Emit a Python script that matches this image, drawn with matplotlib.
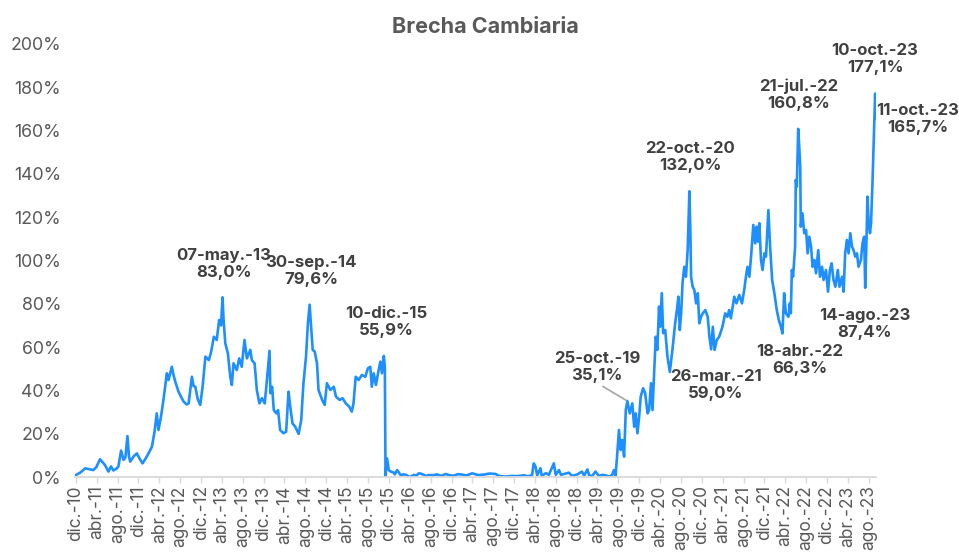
import matplotlib
matplotlib.use("Agg")
import matplotlib.pyplot as plt
import pandas as pd

# ---------------- data ----------------
dates = [
    "2010-12-01","2010-12-26","2011-01-25","2011-02-19","2011-03-13","2011-03-30","2011-04-21","2011-05-04",
    "2011-05-20","2011-06-09","2011-06-24","2011-07-08","2011-07-25","2011-08-06","2011-08-22","2011-09-05",
    "2011-09-16","2011-09-28","2011-10-07","2011-10-14","2011-11-03","2011-11-22","2011-12-08","2011-12-25",
    "2012-01-12","2012-01-29","2012-02-18","2012-03-04","2012-03-17","2012-03-27","2012-04-11","2012-04-25",
    "2012-05-15","2012-05-25","2012-06-13","2012-06-23","2012-07-06","2012-07-22","2012-08-06","2012-08-21",
    "2012-09-08","2012-09-19","2012-10-08","2012-10-18","2012-10-28","2012-11-11","2012-11-26","2012-12-10",
    "2012-12-26","2013-01-15","2013-01-29","2013-02-13","2013-03-02","2013-03-16","2013-03-27","2013-04-05",
    "2013-04-11","2013-04-21","2013-05-06","2013-05-20","2013-05-29","2013-06-08","2013-06-27","2013-07-11",
    "2013-07-26","2013-08-11","2013-08-25","2013-09-14","2013-09-23","2013-10-09","2013-10-22","2013-11-06",
    "2013-11-21","2013-12-07","2013-12-20","2014-01-04","2014-01-09","2014-01-19","2014-01-29","2014-02-12",
    "2014-02-23","2014-03-07","2014-03-26","2014-04-11","2014-04-25","2014-05-05","2014-05-18","2014-06-03",
    "2014-06-23","2014-07-08","2014-07-21","2014-08-05","2014-08-16","2014-08-26","2014-09-05","2014-09-13",
    "2014-09-25","2014-10-08","2014-10-17","2014-11-07","2014-11-22","2014-12-05","2014-12-25","2015-01-14",
    "2015-01-27","2015-02-17","2015-03-06","2015-03-25","2015-04-14","2015-04-29","2015-05-09","2015-05-22",
    "2015-06-08","2015-06-27","2015-07-17","2015-08-01","2015-08-15","2015-08-24","2015-09-04","2015-09-17",
    "2015-10-03","2015-10-13","2015-10-22","2015-11-02","2015-11-08","2015-11-12","2015-11-21","2015-12-01",
    "2015-12-13","2015-12-31","2016-01-05","2016-01-19","2016-02-08","2016-02-27","2016-03-10","2016-03-27",
    "2016-04-10","2016-04-25","2016-05-08","2016-05-24","2016-06-07","2016-06-22","2016-07-05","2016-07-21",
    "2016-08-15","2016-09-07","2016-10-01","2016-10-27","2016-11-20","2016-12-15","2017-01-05","2017-01-26",
    "2017-02-25","2017-04-01","2017-05-05","2017-06-08","2017-07-10","2017-08-15","2017-09-04","2017-10-10",
    "2017-11-19","2017-12-20","2018-01-28","2018-02-20","2018-03-16","2018-03-26","2018-04-05","2018-04-15",
    "2018-05-04","2018-05-12","2018-06-05","2018-06-22","2018-07-21","2018-08-01","2018-08-20","2018-09-01",
    "2018-10-17","2018-11-05","2018-12-05","2019-01-01","2019-01-14","2019-02-02","2019-02-12","2019-03-01",
    "2019-03-21","2019-04-10","2019-05-01","2019-05-26","2019-06-10","2019-06-26","2019-07-06","2019-07-16",
    "2019-07-25","2019-08-05","2019-08-15","2019-08-24","2019-09-04",
    "2019-09-14","2019-09-23","2019-10-07","2019-10-22","2019-11-02","2019-11-11","2019-11-21","2019-12-01",
    "2019-12-10","2019-12-24","2020-01-05","2020-01-19","2020-01-28","2020-02-08","2020-02-17","2020-02-27",
    "2020-03-07","2020-03-16","2020-03-26","2020-04-01","2020-04-11","2020-04-19","2020-05-01","2020-05-14",
    "2020-05-28","2020-06-12","2020-06-28","2020-07-08","2020-07-17","2020-07-25","2020-08-02","2020-08-10",
    "2020-08-20","2020-08-30","2020-09-09","2020-09-15","2020-09-19","2020-09-25","2020-09-29","2020-10-08",
    "2020-10-18","2020-10-28","2020-11-07","2020-11-16","2020-11-26","2020-12-06","2020-12-21","2021-01-04",
    "2021-01-14","2021-01-24","2021-02-03","2021-02-13","2021-02-26","2021-03-12","2021-03-31","2021-04-16",
    "2021-04-29","2021-05-09","2021-05-19","2021-06-08","2021-06-21","2021-07-07","2021-07-23","2021-08-05",
    "2021-08-15","2021-08-24","2021-09-04","2021-09-14","2021-09-27","2021-10-08","2021-10-16","2021-10-24",
    "2021-11-01","2021-11-11","2021-11-20","2021-12-01","2021-12-10","2021-12-24","2022-01-03","2022-01-15",
    "2022-01-28","2022-02-11","2022-02-23","2022-03-07","2022-03-16","2022-03-26","2022-04-05","2022-04-20",
    "2022-04-28","2022-05-04","2022-05-10","2022-05-17","2022-05-29","2022-06-02","2022-06-08","2022-06-16",
    "2022-06-22","2022-06-28","2022-07-01","2022-07-11","2022-07-21","2022-08-01","2022-08-10","2022-08-20",
    "2022-08-30","2022-09-08","2022-09-18","2022-09-28","2022-10-11","2022-10-21","2022-11-02","2022-11-11",
    "2022-11-25","2022-12-07","2022-12-18","2022-12-28","2023-01-08","2023-01-19","2023-02-02","2023-02-12",
    "2023-02-27","2023-03-08","2023-03-17","2023-03-27","2023-04-06","2023-04-16","2023-04-26","2023-05-05",
    "2023-05-15","2023-05-25","2023-06-03","2023-06-17","2023-06-26","2023-07-06","2023-07-12","2023-07-20",
    "2023-07-25","2023-08-01","2023-08-09","2023-08-15","2023-08-24","2023-08-30","2023-09-08","2023-09-12",
]
brecha = [
    0.9, 2.0, 4.0, 3.6, 3.2, 4.5, 8.2, 7.0,
    5.5, 2.5, 4.9, 3.0, 3.8, 4.8, 12.2, 7.9,
    9.0, 18.9, 9.5, 7.1, 9.5, 10.9, 8.5, 6.3,
    8.5, 10.9, 14.0, 20.9, 29.4, 21.7, 28.0, 35.6,
    47.9, 44.8, 50.9, 47.0, 43.3, 39.4, 37.0, 34.8,
    33.5, 34.0, 46.3, 42.0, 41.7, 36.0, 33.3, 42.0,
    55.6, 54.0, 58.0, 64.8, 63.3, 72.5, 70.0, 83.0,
    72.5, 61.8, 57.1, 46.3, 42.5, 52.5, 49.4, 54.8,
    50.9, 63.3, 54.8, 58.7, 54.0, 52.5, 40.2, 34.0,
    36.4, 34.0, 44.8, 58.3, 38.7, 41.7, 30.9, 29.4,
    30.9, 21.7, 20.2, 20.9, 39.4, 32.5, 24.8, 23.2,
    19.9, 26.3, 43.3, 55.6, 71.0, 79.6, 67.9, 58.7,
    57.9, 52.5, 40.2, 35.6, 33.3, 43.3, 40.2, 41.7,
    37.1, 35.6, 36.4, 34.0, 32.5, 30.2, 34.0, 46.3,
    44.8, 47.1, 46.3, 50.2, 50.9, 41.7, 47.9, 42.5,
    49.4, 53.3, 47.9, 55.9, 50.9, 0.3, 8.6, 3.2,
    2.5, 2.0, 1.2, 3.2, 0.9, 1.2, 1.0, 0.1,
    0.3, 1.0, 0.5, 1.7, 1.5, 1.0, 0.4, 0.9,
    0.8, 1.2, 0.5, 1.4, 0.8, 0.6, 1.3, 1.2,
    0.7, 1.7, 0.9, 1.1, 1.6, 1.4, 0.5, 0.2,
    0.5, 0.4, 0.8, 0.3, 0.9, 6.3, 4.8, 0.8,
    4.0, 0.5, 1.8, 1.0, 6.3, 1.0, 3.2, 1.0,
    2.0, 0.5, 1.2, 2.5, 0.6, 3.5, 0.8, 0.4,
    2.5, 0.5, 1.0, 0.6, 0.2, 0.9, 3.2, 0.4,
    9.4, 21.7, 12.5, 17.1, 9.4,
    30.9, 35.1, 29.4, 34.0, 23.2, 29.4, 20.2, 27.9,
    37.1, 41.0, 38.7, 29.4, 30.9, 43.3, 30.9, 49.4,
    64.8, 58.7, 78.7, 69.4, 84.9, 66.4, 67.9, 55.6,
    48.5, 58.7, 71.0, 77.1, 83.3, 67.9, 75.6, 89.5,
    97.1, 92.5, 104.8, 120.2, 132.0, 112.6, 92.5, 87.9,
    86.4, 80.2, 84.9, 71.0, 74.0, 75.6, 77.1, 74.0,
    64.8, 59.0, 69.4, 58.7, 63.3, 64.8, 69.4, 75.6,
    74.0, 77.1, 73.3, 83.3, 80.2, 84.1, 80.2, 86.4,
    92.5, 97.1, 92.5, 101.8, 116.4, 107.9, 115.6, 108.7,
    117.2, 100.2, 95.6, 103.3, 101.8, 123.3, 106.4, 91.0,
    84.9, 77.1, 72.5, 69.4, 66.3, 84.9, 75.6, 74.0,
    80.2, 75.6, 95.6, 92.5, 106.4, 137.2, 134.1, 160.8,
    152.6, 143.3, 115.6, 121.8, 112.6, 114.1, 103.3, 111.0,
    106.4, 97.1, 100.2, 94.1, 104.8, 92.5, 97.1, 91.0,
    95.6, 85.6, 95.6, 98.7, 91.0, 87.9, 95.6, 87.9,
    92.5, 85.6, 103.3, 109.5, 103.3, 112.6, 106.4, 104.8,
    101.8, 103.3, 97.1, 100.2, 107.9, 111.0, 87.4, 111.0,
    129.5, 117.2, 112.6, 117.2, 137.2, 152.6, 177.1, 165.7,
]

y_ticks = [0, 20, 40, 60, 80, 100, 120, 140, 160, 180, 200]
month_names = {12: "dic", 4: "abr", 8: "ago"}

# annotated points
ann_dates = ["2013-04-05", "2014-08-26", "2015-11-02", "2019-09-23", "2020-09-19",
             "2021-01-24", "2022-06-16", "2022-03-16", "2023-07-12", "2023-09-08", "2023-09-12"]
ann_labels = ["07-may.-13", "30-sep.-14", "10-dic.-15", "25-oct.-19", "22-oct.-20",
              "26-mar.-21", "21-jul.-22", "18-abr.-22", "14-ago.-23", "10-oct.-23", "11-oct.-23"]
ann_values = [83.0, 79.6, 55.9, 35.1, 132.0, 59.0, 160.8, 66.3, 87.4, 177.1, 165.7]

# ---------------- figure ----------------
W, H = 959, 554
fig = plt.figure(figsize=(W / 100, H / 100), dpi=100)
plt.rcParams['font.family'] = ['Inter', 'DejaVu Sans']

ax = fig.add_axes([75 / W, 1 - 477 / H, (876 - 75) / W, (477 - 44) / H])

series = pd.Series(brecha, index=pd.to_datetime(dates)).sort_index()
ax.plot(series.index, series.values, color="#1E8FFF", lw=1.9, solid_joinstyle="round")

ax.set_ylim(0, 200)
ax.set_xlim(pd.Timestamp("2010-11-26"), pd.Timestamp("2023-09-13"))
ax.set_yticks(y_ticks)
ax.set_yticklabels([f"{v}%" for v in y_ticks])

tick_dates = pd.date_range("2010-12-01", "2023-08-01", freq="4MS")
ax.set_xticks(tick_dates)
ax.set_xticklabels([f"{month_names[d.month]}.-{d.year % 100:02d}" for d in tick_dates],
                   rotation=90, va="top", ha="center")

for s in ["top", "right", "left"]:
    ax.spines[s].set_visible(False)
ax.spines["bottom"].set_color("#d9d9d9")
ax.spines["bottom"].set_linewidth(1.3)
ax.tick_params(axis="y", length=0, pad=10, labelsize=12.8, labelcolor="#595959")
ax.tick_params(axis="x", length=4, width=1, color="#d9d9d9", pad=2,
               labelsize=12.5, labelcolor="#595959")

fig.text(485 / W, 1 - 27 / H, "Brecha Cambiaria", ha="center", va="center",
         fontsize=15.5, fontweight="bold", color="#595959")

# annotation text block centers in figure pixels (from top-left)
ann_pos = [(224, 264), (311, 271), (386, 322), (597, 367), (690, 157),
           (716, 385), (799, 95), (800, 360), (865, 324), (875, 59), (918, 119)]

for d, lab, val, (px, py) in zip(ann_dates, ann_labels, ann_values, ann_pos):
    txt = lab + "\n" + f"{val:.1f}".replace(".", ",") + "%"
    kw = {}
    if lab == "25-oct.-19":
        kw["arrowprops"] = dict(arrowstyle="-", color="#a6a6a6", lw=1.2,
                                relpos=(0.5, 0.0), shrinkA=1, shrinkB=1)
    ax.annotate(txt, xy=(pd.Timestamp(d), val), xytext=(px, H - py),
                textcoords="figure pixels", ha="center", va="center",
                fontsize=12, fontweight="bold", color="#404040",
                linespacing=1.15, **kw)

fig.savefig("out.png", dpi=100)
